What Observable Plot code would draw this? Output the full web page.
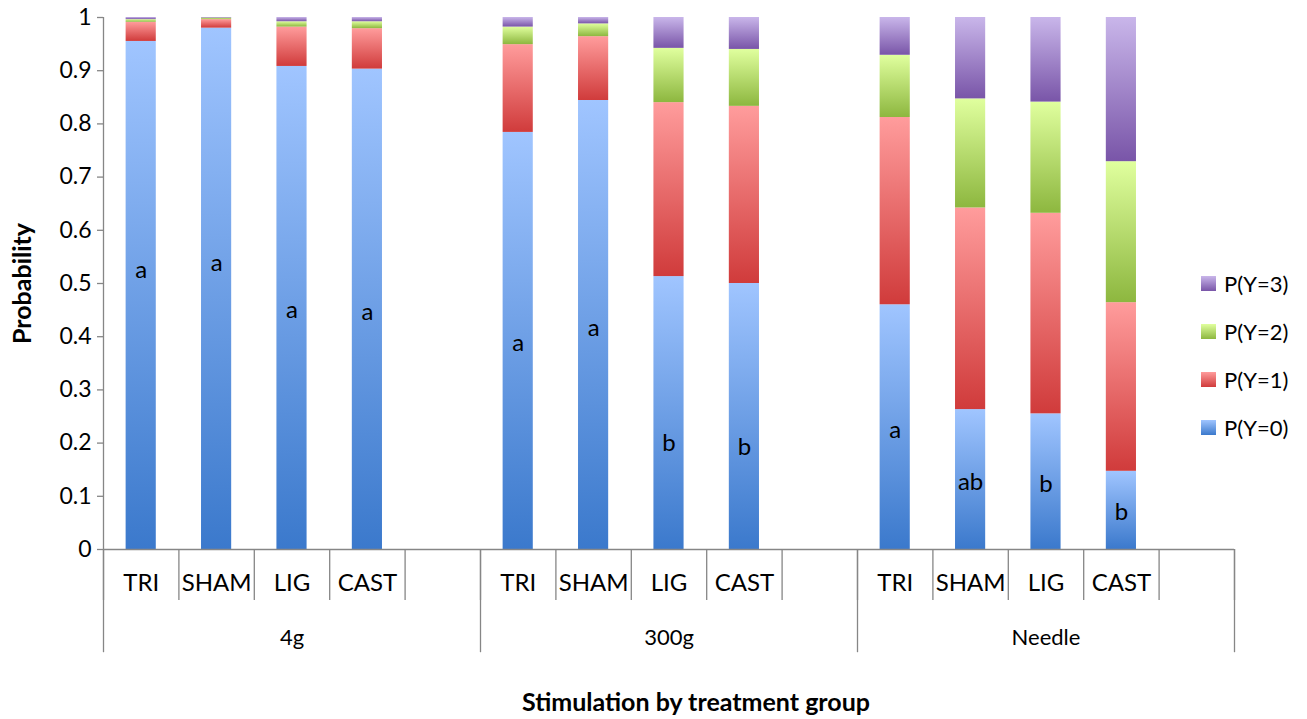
<!DOCTYPE html>
<html>
<head>
<meta charset="utf-8">
<script src="https://cdn.jsdelivr.net/npm/d3@7"></script>
<script src="https://cdn.jsdelivr.net/npm/@observablehq/plot@0.6"></script>
<style>
  html, body { margin: 0; padding: 0; background: #fff; }
  #wrap { position: relative; width: 1307px; height: 719px; font-family: Lato, "Open Sans", sans-serif; color: #000; }
  #legend { position: absolute; left: 1201px; top: 259px; }
  .li { display: flex; align-items: center; height: 48px; font-size: 22px; }
  .sw { width: 15px; height: 15px; margin-right: 8px; }
  #xtitle { position: absolute; top: 686px; left: 696px; transform: translateX(-50%); font-weight: bold; font-size: 25px; white-space: nowrap; }
</style>
</head>
<body>
<div id="wrap">
  <div id="chart"></div>
  <div id="legend"></div>
  <div id="xtitle">Stimulation by treatment group</div>
</div>
<script>
// ---- data ----
const groups = ["4g", "300g", "Needle"];
const treatments = ["TRI", "SHAM", "LIG", "CAST"];
const levels = ["P(Y=0)", "P(Y=1)", "P(Y=2)", "P(Y=3)"];
// probabilities per bar, order: 4g TRI,SHAM,LIG,CAST, 300g ..., Needle ...
const p0 = [0.955, 0.980, 0.908, 0.903, 0.784, 0.844, 0.513, 0.500, 0.460, 0.263, 0.255, 0.147];
const p1 = [0.036, 0.016, 0.074, 0.076, 0.165, 0.120, 0.327, 0.333, 0.352, 0.379, 0.377, 0.317];
const p2 = [0.005, 0.003, 0.010, 0.013, 0.033, 0.024, 0.102, 0.107, 0.117, 0.205, 0.209, 0.265];
const p3 = [0.004, 0.001, 0.008, 0.008, 0.018, 0.012, 0.058, 0.060, 0.071, 0.153, 0.159, 0.271];
const letters = ["a", "a", "a", "a", "a", "a", "b", "b", "a", "ab", "b", "b"];
const letterY = [0.524, 0.538, 0.449, 0.445, 0.387, 0.415, 0.199, 0.192, 0.224, 0.126, 0.122, 0.070];
const yTicks = [0, 0.1, 0.2, 0.3, 0.4, 0.5, 0.6, 0.7, 0.8, 0.9, 1];

// colours (top light -> bottom dark)
const grad = [
  ["#a0c5ff", "#3b79cc"],
  ["#ff9c9c", "#d03b3b"],
  ["#e0ff9e", "#8db73f"],
  ["#c9b6ea", "#7955a8"]
];

// ---- derived table ----
const slotsPerGroup = treatments.length + 1;
const nSlots = groups.length * slotsPerGroup;
const probs = [p0, p1, p2, p3];
const bars = [];
groups.forEach((g, gi) => treatments.forEach((t, ti) => {
  const k = gi * treatments.length + ti;
  const slot = gi * slotsPerGroup + ti;
  let acc = 0;
  probs.forEach((arr, li) => {
    bars.push({group: g, treatment: t, level: li, slot, y1: acc, y2: acc + arr[k]});
    acc += arr[k];
  });
}));
const labelRows = [];
groups.forEach((g, gi) => treatments.forEach((t, ti) => {
  const k = gi * treatments.length + ti;
  labelRows.push({slot: gi * slotsPerGroup + ti, text: letters[k], y: letterY[k]});
}));
const catSlots = d3.range(nSlots).map(s => ({slot: s, name: (s % slotsPerGroup) < treatments.length ? treatments[s % slotsPerGroup] : ""}));
const boundaries = d3.range(nSlots + 1);
const groupBounds = d3.range(groups.length + 1).map(i => i * slotsPerGroup);
const groupRows = groups.map((g, i) => ({name: g, center: i * slotsPerGroup + slotsPerGroup / 2}));

function defs() {
  const ns = "http://www.w3.org/2000/svg";
  const d = document.createElementNS(ns, "defs");
  grad.forEach((c, i) => {
    const lg = document.createElementNS(ns, "linearGradient");
    lg.setAttribute("id", "g" + i);
    lg.setAttribute("x1", "0"); lg.setAttribute("y1", "0");
    lg.setAttribute("x2", "0"); lg.setAttribute("y2", "1");
    [[0, c[0]], [1, c[1]]].forEach(([o, col]) => {
      const s = document.createElementNS(ns, "stop");
      s.setAttribute("offset", o);
      s.setAttribute("stop-color", col);
      lg.appendChild(s);
    });
    d.appendChild(lg);
  });
  return d;
}

const axisColor = "#868686";
const barPad = 0.3;

const plot = Plot.plot({
  width: 1307,
  height: 660,
  marginLeft: 103,
  marginRight: 73,
  marginTop: 17,
  marginBottom: 111,
  style: {fontFamily: "Lato, 'Open Sans', sans-serif", color: "#000", background: "transparent"},
  x: {type: "linear", domain: [0, nSlots], axis: null},
  y: {type: "linear", domain: [0, 1], axis: null},
  marks: [
    defs,
    ...levels.map((lv, li) => Plot.rect(bars.filter(d => d.level === li), {
      x1: d => d.slot + barPad, x2: d => d.slot + 1 - barPad, y1: "y1", y2: "y2", fill: `url(#g${li})`
    })),
    // y axis
    Plot.ruleX([0], {y1: 0, y2: 1, stroke: axisColor, strokeWidth: 1.3}),
    Plot.axisY({ticks: yTicks, tickSize: 6, tickFormat: d3.format(""), fontSize: 23, tickPadding: 6, stroke: axisColor, strokeWidth: 1.3, strokeOpacity: 1, fill: "#000"}),
    Plot.text(["Probability"], {frameAnchor: "left", textAnchor: "middle", rotate: -90, dx: -81, fontWeight: "bold", fontSize: 25}),
    // x category axis
    Plot.ruleY([0], {x1: 0, x2: nSlots, stroke: axisColor, strokeWidth: 1.3}),
    Plot.ruleX(boundaries, {x: d => d, y1: 0, y2: -0.096, stroke: axisColor, strokeWidth: 1.3}),
    Plot.ruleX(groupBounds, {x: d => d, y1: 0, y2: -0.194, stroke: axisColor, strokeWidth: 1.3}),
    Plot.text(catSlots, {x: d => d.slot + 0.5, y: () => 0, text: "name", dy: 34, fontSize: 24}),
    Plot.text(groupRows, {x: "center", y: () => 0, text: "name", dy: 88, fontSize: 22}),
    // significance letters
    Plot.text(labelRows, {x: d => d.slot + 0.5, y: "y", text: "text", fontSize: 24})
  ]
});
document.getElementById("chart").appendChild(plot);

// legend (top to bottom: highest level first)
const leg = document.getElementById("legend");
levels.slice().reverse().forEach((lv) => {
  const li = levels.indexOf(lv);
  const row = document.createElement("div");
  row.className = "li";
  const sw = document.createElement("div");
  sw.className = "sw";
  sw.style.background = `linear-gradient(${grad[li][0]}, ${grad[li][1]})`;
  const tx = document.createElement("span");
  tx.textContent = lv;
  row.appendChild(sw); row.appendChild(tx);
  leg.appendChild(row);
});
</script>
</body>
</html>
